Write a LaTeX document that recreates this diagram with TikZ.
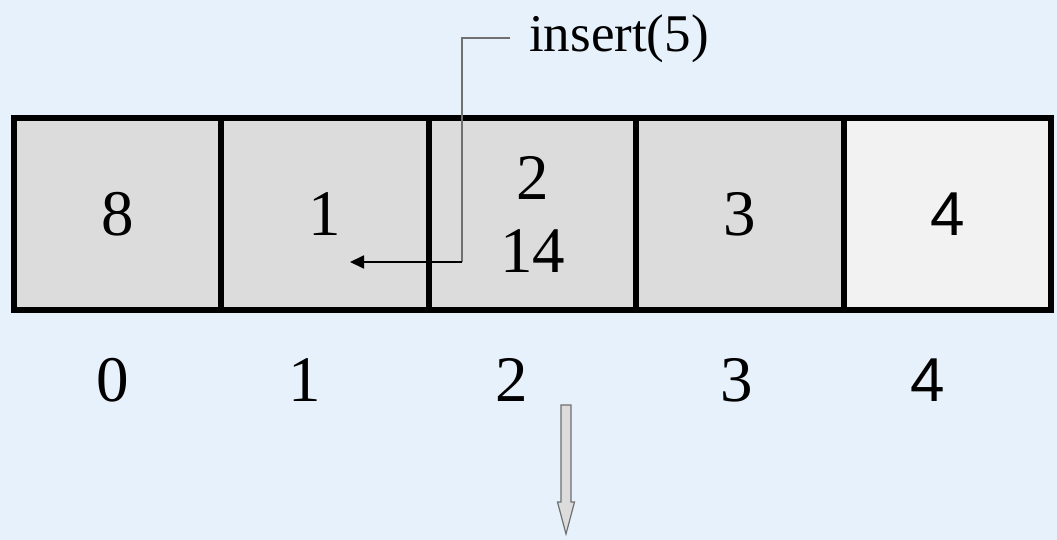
\documentclass[tikz,border=0pt]{standalone}
\usepackage{fontspec}
\setmainfont{Liberation Serif}
\newfontfamily\sansf{Liberation Sans}
\usetikzlibrary{arrows.meta}
\definecolor{bgblue}{HTML}{E7F1FB}
\definecolor{cellgray}{HTML}{DCDCDC}
\definecolor{celllight}{HTML}{F2F2F2}
\definecolor{linegray}{HTML}{707070}
\begin{document}
\begin{tikzpicture}[x=1pt,y=-1pt,
  cell/.style={draw=black,line width=6pt,fill=cellgray,minimum width=207.4pt,minimum height=192pt,inner sep=0pt,font=\rmfamily\fontsize{65}{73}\selectfont,align=center},
  idx/.style={inner sep=0pt,font=\rmfamily\fontsize{65}{73}\selectfont},
  callout/.style={draw=linegray,line width=1.3pt},
  pointer/.style={draw=black,line width=1.8pt,-{Triangle[length=14pt,width=13pt]}},
  blockarrow/.style={fill=cellgray,draw=linegray,line width=1.2pt,line join=miter}]
\fill[bgblue] (0,0) rectangle (1057,540);
\useasboundingbox (0,0) rectangle (1057,540);
% cells
\node[cell] (c0) at (117.7,214) {8};
\node[cell] (c1) at (325.1,214) {1};
\node[cell] (c2) at (532.5,214) {2\\14};
\node[cell] (c3) at (739.9,214) {3};
\node[cell,fill=celllight,font=\sansf\fontsize{62}{73}\selectfont] (c4) at (947.3,214) {4};
% indices
\node[idx] (i0) at (113,380) {0};
\node[idx] (i1) at (305,380) {1};
\node[idx] (i2) at (512,380) {2};
\node[idx] (i3) at (737,380) {3};
\node[idx,font=\sansf\fontsize{62}{73}\selectfont] (i4) at (928,380) {4};
% insert call
\node[inner sep=0pt,anchor=base west,font=\rmfamily\fontsize{53}{60}\selectfont] (ins) at (529,52) {insert(5)};
\coordinate (cs) at (510,38);
\coordinate (cb) at (462,262);
\coordinate (ct) at (350,262);
\draw[callout] (cs) -| (cb);
\draw[pointer] (cb) -- (ct);
% block arrow
\draw[blockarrow] (561,405) -- (571,405) -- (571,502) -- (574.5,502) -- (566,534) -- (557.5,502) -- (561,502) -- cycle;
\end{tikzpicture}
\end{document}
